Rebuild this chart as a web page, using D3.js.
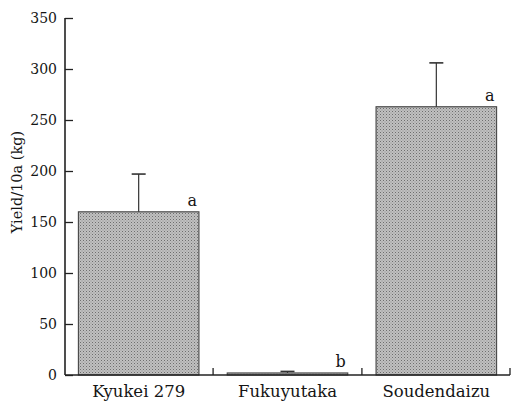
<!DOCTYPE html>
<html>
<head>
<meta charset="utf-8">
<script src="https://cdn.jsdelivr.net/npm/d3@7"></script>
<style>
  body { margin: 0; background: #fff; }
  text { font-family: "DejaVu Serif", "Liberation Serif", serif; fill: #151515; }
</style>
</head>
<body>
<div class="app"></div>
<script>
// chart data
var categories = ["Kyukei 279", "Fukuyutaka", "Soudendaizu"];
var yields = [160, 2, 263];
var errors = [37, 1.5, 43];
var letters = ["a", "b", "a"];
var yTicks = [0, 50, 100, 150, 200, 250, 300, 350];

var W = 513, H = 403;
var margin = {top: 18, right: 2, bottom: 28, left: 65};
var width = W - margin.left - margin.right,
    height = 375 - margin.top;

var svg = d3.select(".app").append("svg")
    .attr("width", W)
    .attr("height", H);

// stipple fill for the bars
var pat = svg.append("defs").append("pattern")
    .attr("id", "dots")
    .attr("width", 3).attr("height", 3)
    .attr("patternUnits", "userSpaceOnUse");
pat.append("rect").attr("width", 3).attr("height", 3).attr("fill", "#c0c0c0");
pat.append("rect").attr("width", 1).attr("height", 1).attr("fill", "#6e6e6e");
pat.append("rect").attr("x", 1.5).attr("y", 1.5).attr("width", 1).attr("height", 1).attr("fill", "#8c8c8c");

var g = svg.append("g")
    .attr("transform", "translate(" + margin.left + "," + margin.top + ")");

var x = d3.scaleBand().domain(categories).range([0, 445]).paddingInner(0.19).paddingOuter(0.09);
var y = d3.scaleLinear().domain([0, 350]).range([height, 0]);

// y axis, ticks pointing inward
var yAxis = d3.axisRight(y).tickValues(yTicks).tickSize(8).tickFormat("");
var ya = g.append("g").call(yAxis);
ya.select(".domain").remove();
ya.selectAll("line").attr("stroke", "#222").attr("stroke-width", 1.3);
g.append("line").attr("x1", 0).attr("x2", 0).attr("y1", 0).attr("y2", height)
    .attr("stroke", "#222").attr("stroke-width", 1.6);

g.selectAll(".ylab").data(yTicks).enter().append("text")
    .attr("x", -8).attr("y", function(d){ return y(d) + 5; })
    .attr("text-anchor", "end")
    .style("font-size", "14px")
    .text(function(d){ return d; });

// bars
g.selectAll(".bar").data(yields).enter().append("rect")
    .attr("x", function(d, i){ return x(categories[i]); })
    .attr("y", function(d){ return y(d); })
    .attr("width", x.bandwidth())
    .attr("height", function(d){ return height - y(d); })
    .attr("fill", "url(#dots)")
    .attr("stroke", "#444")
    .attr("stroke-width", 1.1);

// error bars
var cap = 7;
yields.forEach(function(v, i){
  var cx = x(categories[i]) + x.bandwidth() / 2;
  g.append("line").attr("x1", cx).attr("x2", cx)
      .attr("y1", y(v)).attr("y2", y(v + errors[i]))
      .attr("stroke", "#333").attr("stroke-width", 1.2);
  g.append("line").attr("x1", cx - cap).attr("x2", cx + cap)
      .attr("y1", y(v + errors[i])).attr("y2", y(v + errors[i]))
      .attr("stroke", "#333").attr("stroke-width", 1.6);
  g.append("text")
      .attr("x", x(categories[i]) + x.bandwidth() - 2)
      .attr("y", y(v) - 6)
      .attr("text-anchor", "end")
      .style("font-size", "16px")
      .text(letters[i]);
});

// x axis baseline with ticks between groups
g.append("line").attr("x1", 0).attr("x2", 445).attr("y1", height).attr("y2", height)
    .attr("stroke", "#222").attr("stroke-width", 1.6);
var sep = [];
for (var i = 1; i < categories.length; i++) {
  sep.push((x(categories[i - 1]) + x.bandwidth() + x(categories[i])) / 2);
}
sep.push(445);
g.selectAll(".xtick").data(sep).enter().append("line")
    .attr("x1", function(d){ return d; }).attr("x2", function(d){ return d; })
    .attr("y1", height).attr("y2", height - 7)
    .attr("stroke", "#222").attr("stroke-width", 1.3);

g.selectAll(".xlab").data(categories).enter().append("text")
    .attr("x", function(d){ return x(d) + x.bandwidth() / 2; })
    .attr("y", height + 22)
    .attr("text-anchor", "middle")
    .style("font-size", "16.5px")
    .text(function(d){ return d; });

// y title
svg.append("text")
    .attr("transform", "translate(22," + 182 + ") rotate(-90)")
    .attr("text-anchor", "middle")
    .style("font-size", "14.5px")
    .text("Yield/10a (kg)");
</script>
</body>
</html>
